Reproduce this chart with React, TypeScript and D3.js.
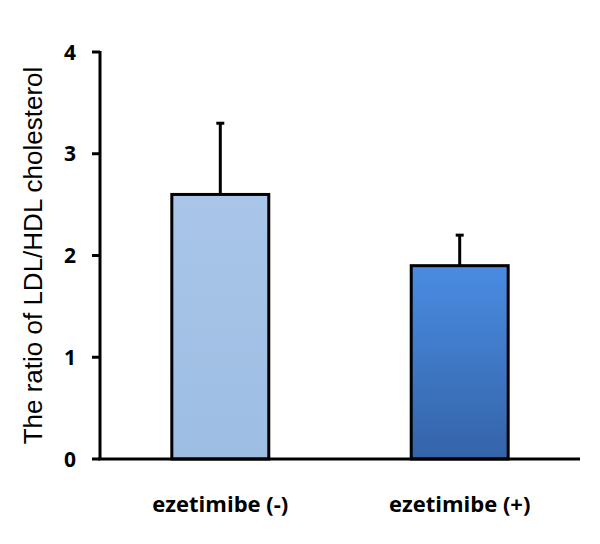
import React from "react";
import * as d3 from "d3";

const categories = ["ezetimibe (-)", "ezetimibe (+)"];
const means = [2.6, 1.9];
const errors = [0.7, 0.3];
const yTicks = [0, 1, 2, 3, 4];
const yTitle = "The ratio of LDL/HDL cholesterol";

export default function App() {
  const W = 600, H = 544;
  const x0 = 100, x1 = 580;
  const y = d3.scaleLinear().domain([0, 4]).range([459, 52]);
  const x = d3.scaleBand().domain(categories).range([x0, x1]).paddingInner(0.595).paddingOuter(0.3);
  const bw = x.bandwidth();
  return (
    <svg width={W} height={H} style={{ position: "absolute", left: 0, top: 0, background: "#fff" }}>
      <defs>
        <linearGradient id="g0" x1="0" y1="0" x2="0" y2="1">
          <stop offset="0" stopColor="#a9c6e9" />
          <stop offset="1" stopColor="#9dbde2" />
        </linearGradient>
        <linearGradient id="g1" x1="0" y1="0" x2="0" y2="1">
          <stop offset="0" stopColor="#4a8ce2" />
          <stop offset="1" stopColor="#3463a8" />
        </linearGradient>
      </defs>
      {categories.map((c, i) => {
        const bx = x(c)!;
        const cx = bx + bw / 2;
        return (
          <g key={c}>
            <line x1={cx} x2={cx} y1={y(means[i])} y2={y(means[i] + errors[i])} stroke="#000" strokeWidth={3} />
            <line x1={cx - 4} x2={cx + 4} y1={y(means[i] + errors[i])} y2={y(means[i] + errors[i])} stroke="#000" strokeWidth={3} />
            <rect x={bx} y={y(means[i])} width={bw} height={y(0) - y(means[i])} fill={`url(#g${i})`} stroke="#000" strokeWidth={3} />
          </g>
        );
      })}
      <line x1={x0} x2={x0} y1={y(4) - 1} y2={y(0)} stroke="#000" strokeWidth={3} />
      <line x1={x0 - 2} x2={x1} y1={y(0)} y2={y(0)} stroke="#000" strokeWidth={3} />
      {yTicks.map((t) => (
        <g key={t}>
          <line x1={x0 - 8} x2={x0} y1={y(t)} y2={y(t)} stroke="#000" strokeWidth={3} />
          <text x={76} y={y(t)} dy="0.36em" textAnchor="end" fontFamily="'Open Sans', sans-serif" fontWeight="bold" fontSize={21}>{t}</text>
        </g>
      ))}
      {categories.map((c) => (
        <text key={c} x={x(c)! + bw / 2} y={504} dy="0.36em" textAnchor="middle" fontFamily="'Open Sans', sans-serif" fontWeight="bold" fontSize={22}>{c}</text>
      ))}
      <text transform={`translate(42,${y(2)}) rotate(-90)`} textAnchor="middle" fontFamily="'Liberation Sans', Arial, sans-serif" fontSize={26}>{yTitle}</text>
    </svg>
  );
}
